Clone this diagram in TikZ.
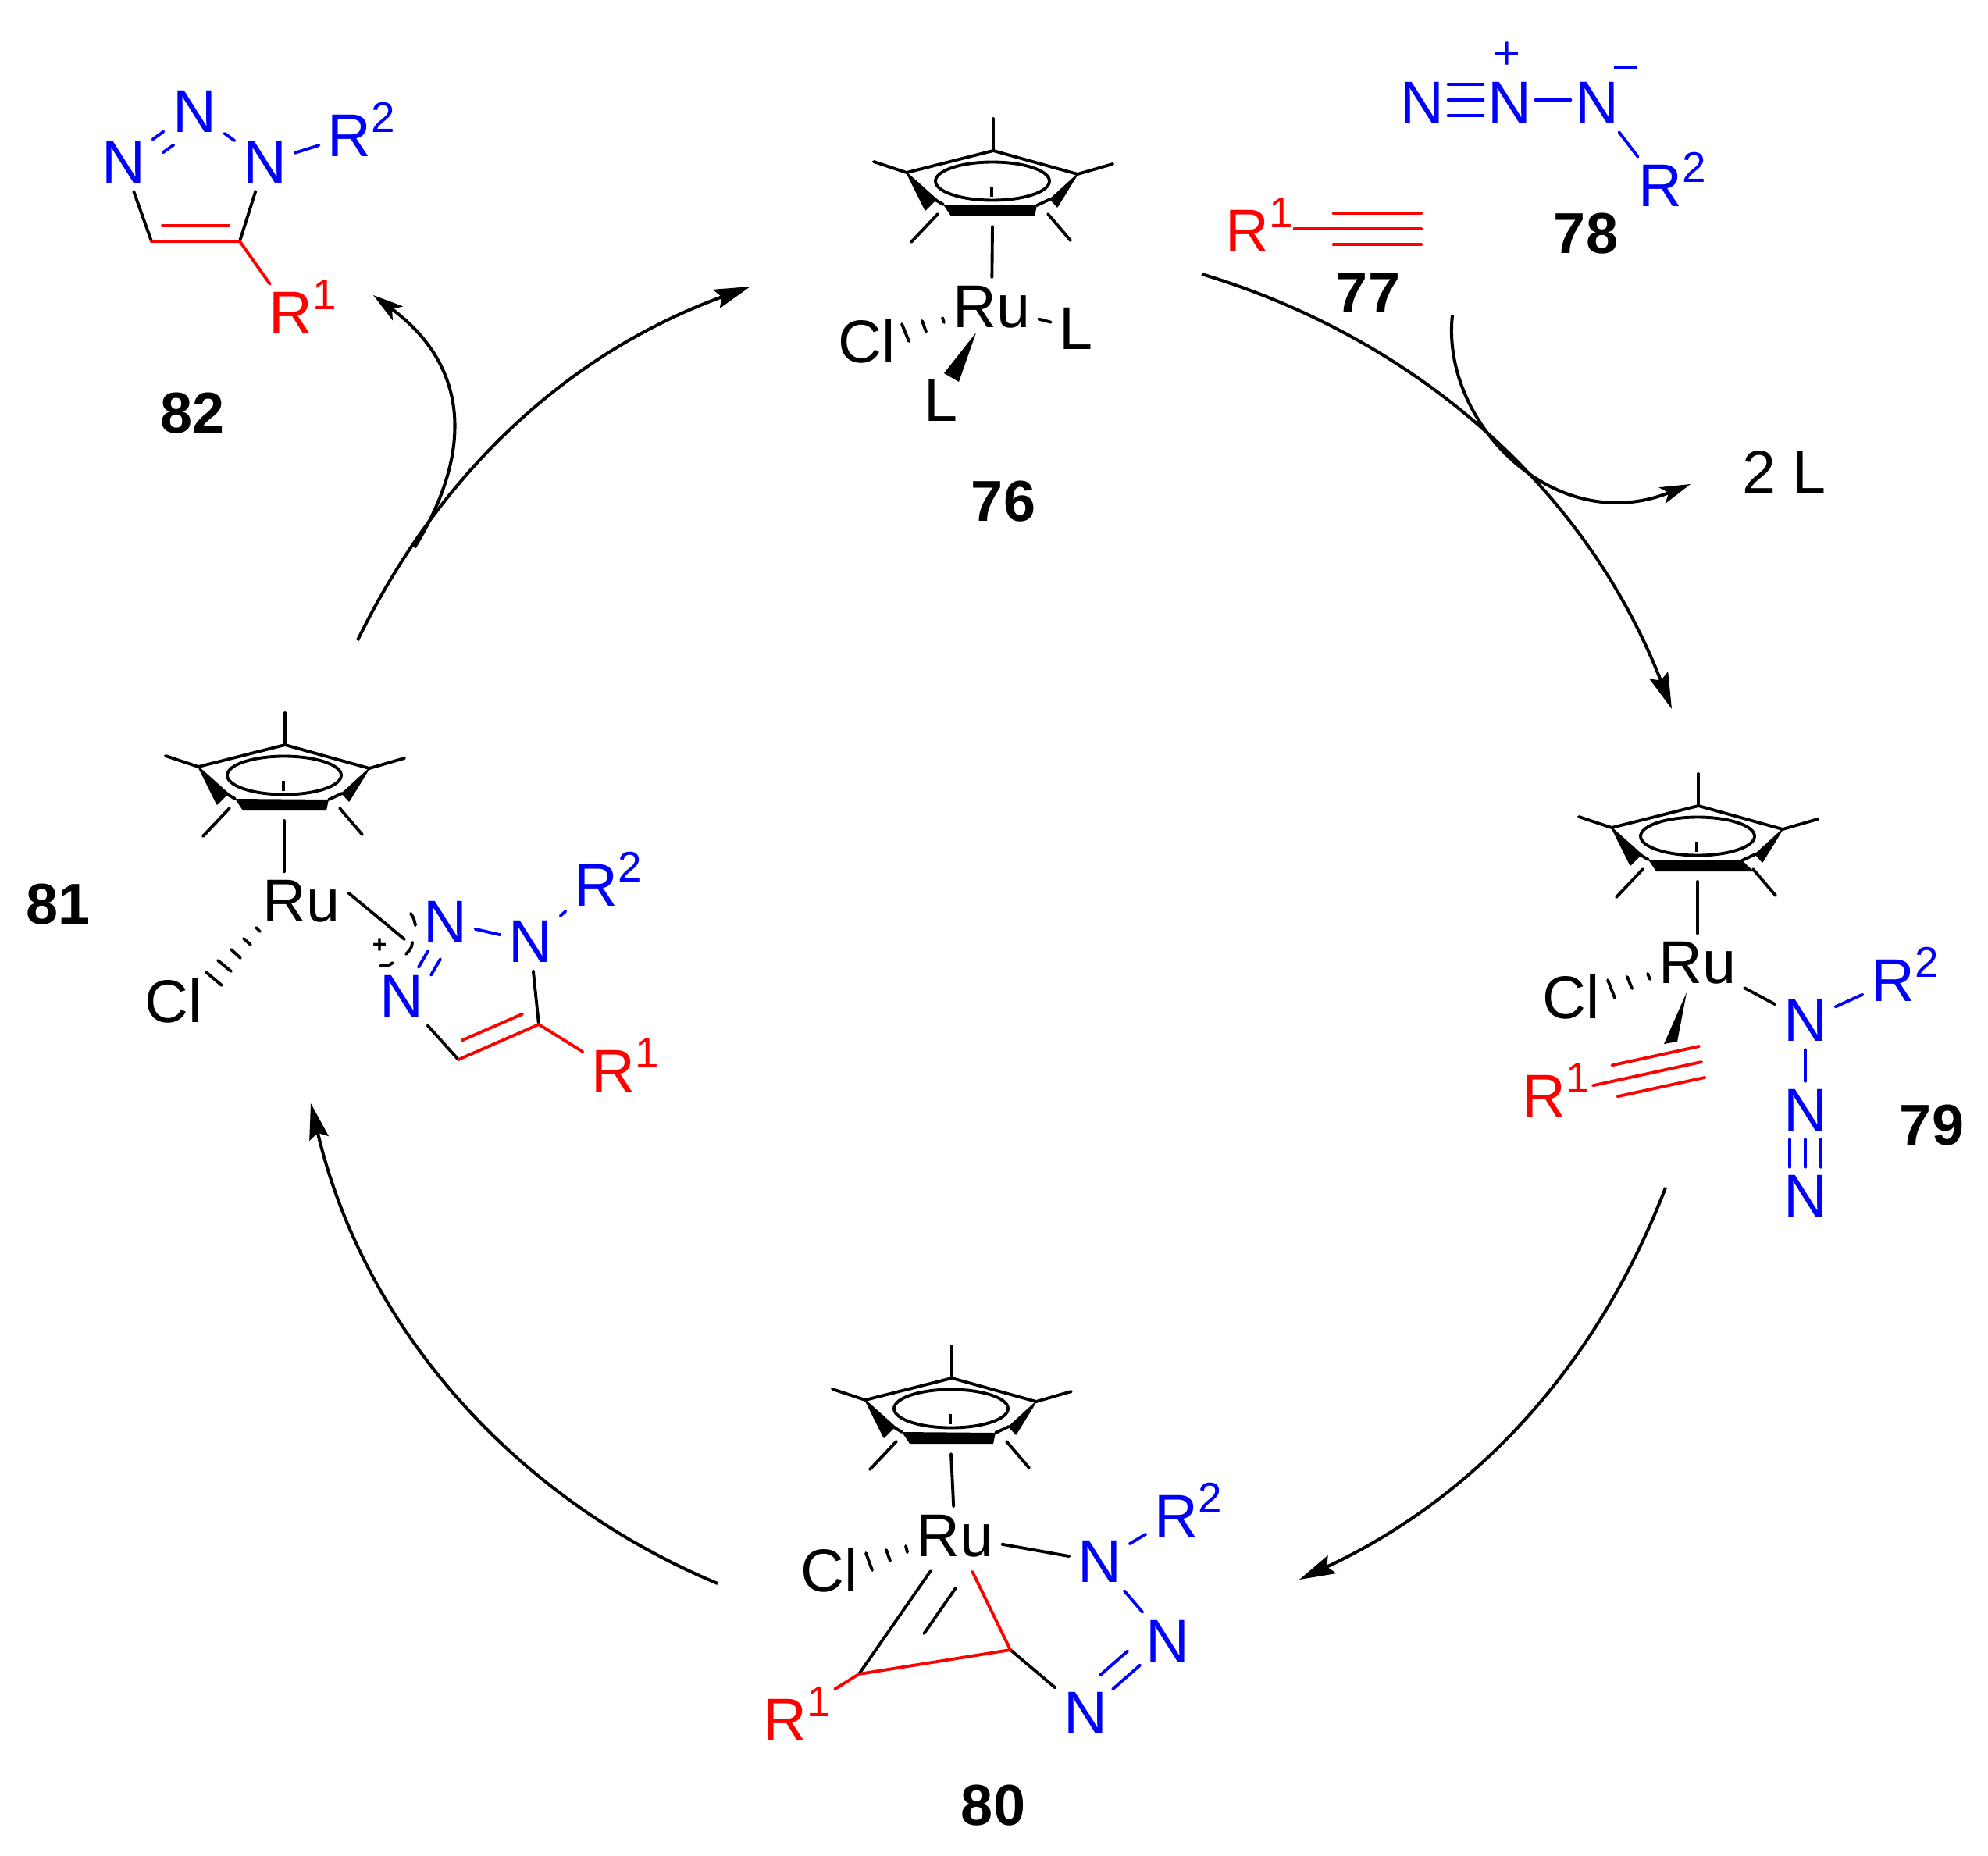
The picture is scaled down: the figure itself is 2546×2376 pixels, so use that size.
\documentclass[tikz,border=0pt]{standalone}
\usepackage{xcolor}
\usepackage{fontspec}
\setmainfont{Liberation Sans}
\usetikzlibrary{arrows.meta}
\definecolor{azideblue}{RGB}{0, 0, 255}
\definecolor{alkynered}{RGB}{255, 0, 0}
\newcommand{\Rsup}[1]{R\smash{\rlap{\kern0.01cm\raisebox{0.31cm}{\fontsize{15.6}{18}\selectfont #1}}}}
\tikzset{
  bond/.style={line width=1.1pt, line cap=round},
  bondb/.style={bond, azideblue},
  bondr/.style={bond, alkynered},
  offs/.style={transform canvas={shift={(#1)}}},
  atom/.style={inner sep=0.1cm, font=\fontsize{22}{26}\selectfont},
  atomb/.style={atom, text=azideblue},
  atomr/.style={atom, text=alkynered},
  charge/.style={inner sep=0pt, font=\fontsize{17}{20}\selectfont},
  cpdlabel/.style={inner sep=0pt, font=\fontsize{21}{26}\selectfont\bfseries},
  cyclearrow/.style={line width=1.15pt, -{Stealth[length=0.46cm, width=0.25cm, inset=0.07cm]}},
  sidearrow/.style={line width=1.15pt, -{Stealth[length=0.39cm, width=0.22cm, inset=0.09cm]}},
  pics/cpring/.style={code={
    \coordinate (-c) at (-1,97);
    \draw[bond, line join=round] (-153,14) -- (-111,28) -- (0,0) -- (108,30) -- (153,17);
    \draw[bond] (0,0) -- (0,-41);
    \draw[bond] (-1,39) ellipse [x radius=73, y radius=24.5];
    \draw[bond, line cap=butt] (-2,46) -- (-2,59);
    \filldraw[line width=0.4pt, line join=round] (-111,28) -- (-73,62) -- (-87,76) -- cycle;
    \filldraw[line width=0.4pt, line join=round] (108,30) -- (73,62) -- (82,72) -- cycle;
    \fill (-64,69) -- (56,70) -- (#1,84) -- (-54,84) -- cycle;
    \draw[bond] (-74,63) -- (-64,69);
    \draw[bond] (56,70) -- (73,62);
    \draw[bond] (-71,81) -- (-105,117);
    \draw[bond] (70,81) -- (99,115);
  }},
  pics/cpring/.default=53
}
\begin{document}
\begin{tikzpicture}[x=0.01cm, y=-0.01cm]
\useasboundingbox (0,0) rectangle (2546,2376);

\pic (cp76) at (1272,193) {cpring};
\node[atom] (Ru76) at (1270,393) {Ru};
\node[atom] (Cl76) at (1110,437) {Cl};
\node[atom] (La76) at (1378,421) {L};
\node[atom] (Lb76) at (1205,513) {L};
\draw[bond] (cp76-c) -- (Ru76);
\draw[bond] (Ru76) -- (La76);
\fill (1250,426) -- (1209,478) -- (1228,489) -- cycle;
\foreach \xa/\ya/\xb/\yb in {1207/407/1209/413, 1181/411/1186/425, 1155/415/1164/437} \draw[bond] (\xa,\ya) -- (\xb,\yb);
\node[cpdlabel] (lbl76) at (1285,642) {76};

\node[atomr] (R77) at (1597,296) {\Rsup{1}};
\coordinate (c77) at (1820,293);
\draw[bondr, shorten <=0.22cm] (R77.east |- c77) -- (c77);
\draw[bondr, shorten <=0.72cm, offs={0,-20}] (R77.east |- c77) -- (c77);
\draw[bondr, shorten <=0.72cm, offs={0,20}] (R77.east |- c77) -- (c77);
\node[cpdlabel] (lbl77) at (1752,375) {77};

\node[atomb] (Na78) at (1821,132) {N};
\node[atomb] (Nb78) at (1933,132) {N};
\node[atomb] (Nc78) at (2045,132) {N};
\node[atomb] (R78) at (2126,238) {\Rsup{2}};
\node[charge, text=azideblue] (plus78) at (1930,71) {+};
\node[charge, text=azideblue] (minus78) at (2082,96) {−};
\draw[bondb, shorten <=-0.05cm, shorten >=-0.05cm, offs={0,-4}] (Na78) -- (Nb78);
\draw[bondb, shorten <=-0.05cm, shorten >=-0.05cm, offs={0,-24}] (Na78) -- (Nb78);
\draw[bondb, shorten <=-0.05cm, shorten >=-0.05cm, offs={0,16}] (Na78) -- (Nb78);
\draw[bondb, shorten <=-0.05cm, shorten >=-0.05cm, offs={0,-4}] (Nb78) -- (Nc78);
\draw[bondb] (Nc78) -- (R78);
\node[cpdlabel] (lbl78) at (2031,299) {78};

\pic (cp79) at (2175,1032) {cpring=71};
\node[atom] (Ru79) at (2174,1233) {Ru};
\node[atom] (Cl79) at (2012,1277) {Cl};
\node[atomb] (Na79) at (2312,1307) {N};
\node[atomb] (Nb79) at (2312,1422) {N};
\node[atomb] (Nc79) at (2312,1532) {N};
\node[atomb] (R79b) at (2424,1256) {\Rsup{2}};
\node[atomr] (R79a) at (1977,1404) {\Rsup{1}};
\coordinate (c79) at (2179,1360);
\draw[bond] (cp79-c) -- (Ru79);
\draw[bond] (Ru79) -- (Na79);
\draw[bondb] (Na79) -- (R79b);
\draw[bondb] (Na79) -- (Nb79);
\draw[bondb] (Nb79) -- (Nc79);
\draw[bondb, offs={-20,0}] (Nb79) -- (Nc79);
\draw[bondb, offs={20,0}] (Nb79) -- (Nc79);
\draw[bondr, shorten <=0.25cm] (R79a) -- (c79);
\draw[bondr, shorten <=0.53cm, offs={-3,-20}] (R79a) -- (c79);
\draw[bondr, shorten <=0.53cm, offs={4,20}] (R79a) -- (c79);
\fill (2160,1271) -- (2131,1337) -- (2148,1334) -- cycle;
\foreach \xa/\ya/\xb/\yb in {2110/1247/2113/1254, 2084/1251/2090/1266, 2059/1255/2068/1278} \draw[bond] (\xa,\ya) -- (\xb,\yb);
\node[cpdlabel] (lbl79) at (2474,1441) {79};

\pic (cp80) at (1219,1765) {cpring};
\node[atom] (Ru80) at (1223,1967) {Ru};
\node[atom] (Cl80) at (1062,2011) {Cl};
\node[atomb] (Na80) at (1408,2000) {N};
\node[atomb] (Nb80) at (1495,2102) {N};
\node[atomb] (Nc80) at (1390,2194) {N};
\node[atomb] (R80b) at (1506,1942) {\Rsup{2}};
\node[atomr] (R80a) at (1005,2203) {\Rsup{1}};
\coordinate (Ca80) at (1100,2144);
\coordinate (Cb80) at (1294,2113);
\draw[bond] (cp80-c) -- (Ru80);
\draw[bond] (Ru80) -- (Na80);
\draw[bondb] (Na80) -- (R80b);
\draw[bondb] (Na80) -- (Nb80);
\draw[bondb, shorten <=-0.05cm, shorten >=-0.05cm] (Nb80) -- (Nc80);
\draw[bondb, shorten <=-0.05cm, shorten >=-0.05cm, offs={-16,-18}] (Nb80) -- (Nc80);
\draw[bond] (Cb80) -- (Nc80);
\draw[bond, shorten <=0.09cm] (Ru80) -- (Ca80);
\draw[bond, shorten <=0.09cm, shorten >=0.9cm, offs={32,22}] (Ru80) -- (Ca80);
\draw[bondr, shorten <=0.09cm] (Ru80) -- (Cb80);
\draw[bondr] (Ca80) -- (Cb80);
\draw[bondr, shorten >=0.3cm] (Ca80) -- (R80a);
\foreach \xa/\ya/\xb/\yb in {1160/1980/1162/1988, 1135/1985/1140/1999, 1109/1989/1117/2011} \draw[bond] (\xa,\ya) -- (\xb,\yb);
\node[cpdlabel] (lbl80) at (1272,2312) {80};

\pic (cp81) at (365,954) {cpring};
\node[atom] (Ru81) at (386,1154) {Ru};
\node[atom] (Cl81) at (222,1282) {Cl};
\node[atomb] (Na81) at (570,1181) {N};
\node[atomb] (Nb81) at (679,1206) {N};
\node[atomb] (Nc81) at (514,1276) {N};
\node[atomb] (R81b) at (763,1134) {\Rsup{2}};
\node[atomr] (R81a) at (785,1372) {\Rsup{1}};
\node[inner sep=0pt, font=\fontsize{9}{10}\selectfont\bfseries] (plus81) at (486,1211) {+};
\coordinate (Ca81) at (690,1312);
\coordinate (Cb81) at (587,1357);
\coordinate (ring81) at (518,1203);
\draw[bond] (cp81-c) -- (cp81-c |- Ru81.north);
\draw[bond] (Ru81.10) -- (ring81);
\draw[bondb] (Na81) -- (Nb81);
\draw[bondb] (Nb81) -- (R81b);
\draw[bondb] (Na81) -- (Nc81);
\draw[bondb, offs={16,10}] (Na81) -- (Nc81);
\draw[bond] (Nb81) -- (Ca81);
\draw[bond] (Nc81) -- (Cb81);
\draw[bondr] (Ca81) -- (Cb81);
\draw[bondr, shorten <=0.14cm, shorten >=0.14cm, offs={-8,-19}] (Ca81) -- (Cb81);
\draw[bondr] (Ca81) -- (R81a.147);
\draw[bond] (526,1170) .. controls (530,1176) .. (532,1185);
\draw[bond] (528,1207) .. controls (527,1214) .. (520,1222);
\draw[bond] (503,1233) .. controls (497,1237) .. (487,1237);
\foreach \xa/\ya/\xb/\yb in {328/1188/333/1193, 312/1202/321/1210, 296/1216/308/1227, 279/1230/296/1244, 264/1245/284/1262} \draw[bond] (\xa,\ya) -- (\xb,\yb);
\node[cpdlabel] (lbl81) at (75,1158) {81};

\node[atomb] (Na82) at (158,208) {N};
\node[atomb] (Nb82) at (249,143) {N};
\node[atomb] (Nc82) at (339,208) {N};
\node[atomb] (R82b) at (447,174) {\Rsup{2}};
\node[atomr] (R82a) at (372,401) {\Rsup{1}};
\coordinate (Ca82) at (194,309);
\coordinate (Cb82) at (307,309);
\draw[bondb, offs={-1,-2}] (Na82) -- (Nb82);
\draw[bondb, offs={12,15}] (Na82) -- (Nb82);
\draw[bondb] (Nb82) -- (Nc82);
\draw[bondb] (Nc82) -- (R82b);
\draw[bond] (Na82) -- (Ca82);
\draw[bond] (Nc82) -- (Cb82);
\draw[bondr] (Ca82) -- (Cb82);
\draw[bondr, shorten <=0.14cm, shorten >=0.14cm, offs={0,-20}] (Ca82) -- (Cb82);
\draw[bondr] (Cb82) -- (R82a);
\node[cpdlabel] (lbl82) at (247,529) {82};

\node[atom, inner sep=0pt] (loss) at (2285,604) {2 L};

\coordinate (a76s) at (1539,351);
\coordinate (a79e) at (2141,908);
\coordinate (a79s) at (2133,1521);
\coordinate (a80e) at (1664,2023);
\coordinate (a80s) at (919,2028);
\coordinate (a81e) at (398,1413);
\coordinate (a81s) at (458,820);
\coordinate (a76e) at (961,367);
\coordinate (b81s) at (531,701);
\coordinate (b82e) at (478,378);
\coordinate (lig77) at (1860,404);
\coordinate (ligend) at (2165,620);
\draw[cyclearrow] (a76s) to[bend left=26, looseness=0.92] (a79e);
\draw[cyclearrow] (a79s) to[bend left=22, looseness=0.92] (a80e);
\draw[cyclearrow] (a80s) to[bend left=27, looseness=0.92] (a81e);
\draw[cyclearrow] (a81s) to[bend left=22, looseness=0.92] (a76e);
\draw[sidearrow] (b81s) .. controls (609,574) and (598,467) .. (b82e);
\draw[sidearrow] (lig77) .. controls (1845,540) and (1990,690) .. (ligend);
\end{tikzpicture}
\end{document}
